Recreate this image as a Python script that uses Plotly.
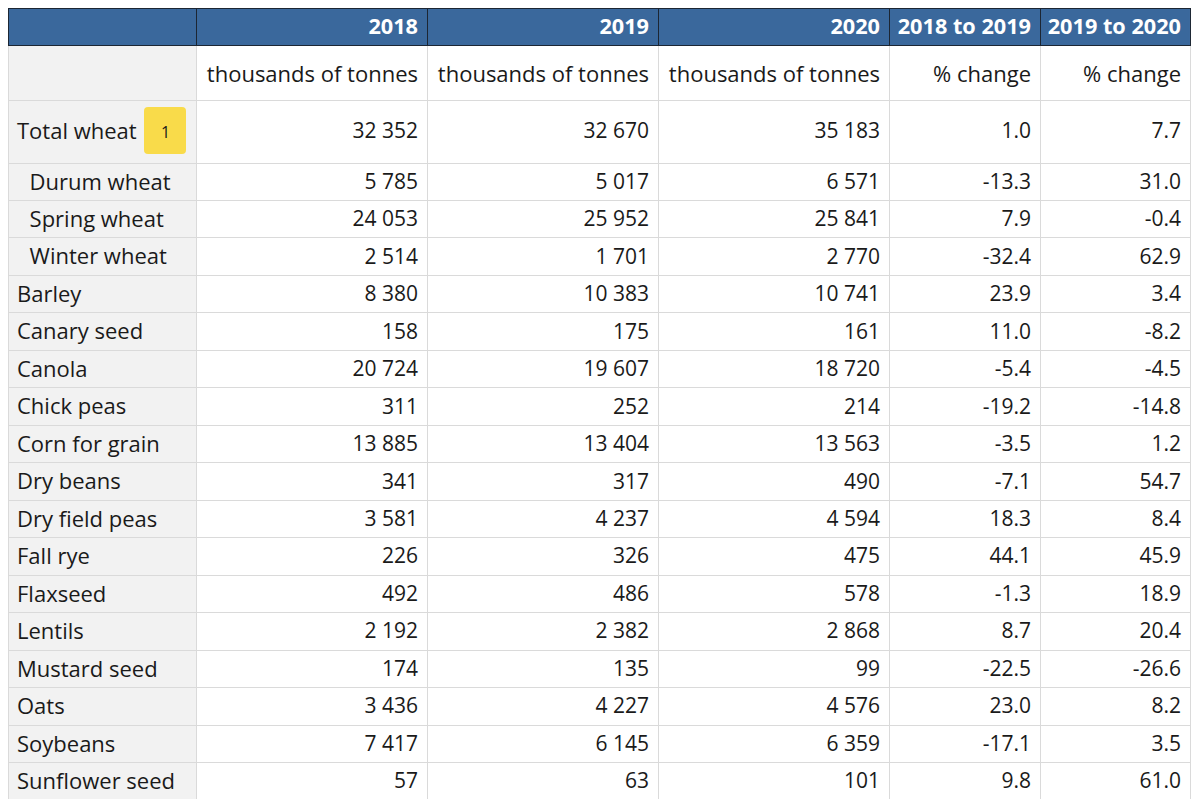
import plotly.graph_objects as go

# ---- data ----
years = ["2018", "2019", "2020"]
change_labels = ["2018 to 2019", "2019 to 2020"]
unit_labels = ["thousands of tonnes", "thousands of tonnes", "thousands of tonnes", "% change", "% change"]

crops = ["Total wheat", "Durum wheat", "Spring wheat", "Winter wheat", "Barley", "Canary seed",
         "Canola", "Chick peas", "Corn for grain", "Dry beans", "Dry field peas", "Fall rye",
         "Flaxseed", "Lentils", "Mustard seed", "Oats", "Soybeans", "Sunflower seed"]
indented = ["Durum wheat", "Spring wheat", "Winter wheat"]
v2018 = [32352, 5785, 24053, 2514, 8380, 158, 20724, 311, 13885, 341, 3581, 226, 492, 2192, 174, 3436, 7417, 57]
v2019 = [32670, 5017, 25952, 1701, 10383, 175, 19607, 252, 13404, 317, 4237, 326, 486, 2382, 135, 4227, 6145, 63]
v2020 = [35183, 6571, 25841, 2770, 10741, 161, 18720, 214, 13563, 490, 4594, 475, 578, 2868, 99, 4576, 6359, 101]
chg_18_19 = [1.0, -13.3, 7.9, -32.4, 23.9, 11.0, -5.4, -19.2, -3.5, -7.1, 18.3, 44.1, -1.3, 8.7, -22.5, 23.0, -17.1, 9.8]
chg_19_20 = [7.7, 31.0, -0.4, 62.9, 3.4, -8.2, -4.5, -14.8, 1.2, 54.7, 8.4, 45.9, 18.9, 20.4, -26.6, 8.2, 3.5, 61.0]
footnote = "1"

# ---- styling ----
W, H = 1200, 807
OFF = 8                              # page body margin of the viewer
X0, X1 = 8 - OFF, 1190 - OFF         # table left/right (px in figure)
col_widths = [188, 231, 231, 231, 151, 150]
PADX = 1                             # extra horizontal text inset
text_widths = [col_widths[0] - 2 * PADX] + col_widths[1:]
Y_TOP = 8 - OFF
h_head, h_unit, h_total, h_row = 37, 55, 63, 37.47
EMPTY_HEAD = 16                      # plotly's band for tables without header
shift_head, shift_unit, shift_total, shift_row = 2, 12, 14, 2
FONT = "Open Sans"
BLUE = "#3a689c"
HEAD_LINE = "#1c2633"
GREY_BG = "#f2f2f2"
LINE = "#dadada"
TXT = "#1a1a1a"
FS_LABEL, FS_NUM, FS_HEAD = 22, 21, 21.7
NONE = "rgba(0,0,0,0)"


def nb(s):
    return s.replace(" ", "\u00a0")


def fmt_int(v):
    return nb(f"{v:,}".replace(",", " "))


def fmt_pct(v):
    return f"{v:.1f}"


def label(name):
    return ("\u2007" + nb(name)) if name in indented else nb(name)


def py(p):
    return (H - p) / H


def px(p):
    return p / W


aligns = ["left", "right", "right", "right", "right", "right"]
first_fill = [GREY_BG, "white", "white", "white", "white", "white"]
xdom_bg = [px(X0), px(X1)]
xdom_tx = [px(X0 + PADX), px(X1 - PADX)]

y_unit = Y_TOP + h_head
y_total = y_unit + h_unit
y_rest = y_total + h_total
y_end = y_rest + h_row * (len(crops) - 1)

blank_head = dict(fill_color=NONE, line=dict(color=NONE, width=0))
font = dict(family=FONT, size=FS_NUM, color=TXT)
row_font = dict(family=FONT, size=[FS_LABEL] + [FS_NUM] * 5, color=TXT)

rows_total = [0]
rows_rest = list(range(1, len(crops)))


def cols_for(idx):
    return [[label(crops[i]) for i in idx],
            [fmt_int(v2018[i]) for i in idx],
            [fmt_int(v2019[i]) for i in idx],
            [fmt_int(v2020[i]) for i in idx],
            [fmt_pct(chg_18_19[i]) for i in idx],
            [fmt_pct(chg_19_20[i]) for i in idx]]


def blanks(n):
    return [[""] * n for _ in col_widths]


fig = go.Figure()

# --- backgrounds ---
fig.add_trace(go.Table(
    domain=dict(x=xdom_bg, y=[py(y_total), py(Y_TOP)]),
    columnwidth=col_widths,
    header=dict(values=[""] * len(col_widths), fill_color=BLUE,
                line=dict(color=HEAD_LINE, width=1), height=h_head,
                font=dict(family=FONT, size=FS_HEAD, color="white")),
    cells=dict(values=blanks(1), fill_color=first_fill, line=dict(color=LINE, width=1),
               font=font, height=h_unit),
))
fig.add_trace(go.Table(
    domain=dict(x=xdom_bg, y=[py(y_rest), py(y_total - EMPTY_HEAD)]),
    columnwidth=col_widths, header=blank_head,
    cells=dict(values=blanks(1), fill_color=first_fill, line=dict(color=LINE, width=1),
               font=font, height=h_total),
))
fig.add_trace(go.Table(
    domain=dict(x=xdom_bg, y=[py(y_end), py(y_rest - EMPTY_HEAD)]),
    columnwidth=col_widths, header=blank_head,
    cells=dict(values=blanks(len(rows_rest)), fill_color=first_fill,
               line=dict(color=LINE, width=1), font=font, height=h_row),
))

# --- texts ---
fig.add_trace(go.Table(
    domain=dict(x=xdom_tx, y=[py(y_unit + shift_head), py(Y_TOP + shift_head)]),
    columnwidth=text_widths,
    header=dict(values=[""] + years + [nb(c) for c in change_labels], fill_color=NONE,
                line=dict(color=NONE, width=0), height=h_head, align="right",
                font=dict(family=FONT, size=FS_HEAD, color="white", weight="bold")),
))
fig.add_trace(go.Table(
    domain=dict(x=xdom_tx, y=[py(y_total + shift_unit), py(y_unit - EMPTY_HEAD + shift_unit)]),
    columnwidth=text_widths, header=blank_head,
    cells=dict(values=[[""]] + [[nb(u)] for u in unit_labels], fill_color=NONE,
               line=dict(color=NONE, width=0), font=dict(family=FONT, size=FS_LABEL, color=TXT),
               align="right", height=h_unit),
))
fig.add_trace(go.Table(
    domain=dict(x=xdom_tx, y=[py(y_rest + shift_total), py(y_total - EMPTY_HEAD + shift_total)]),
    columnwidth=text_widths, header=blank_head,
    cells=dict(values=cols_for(rows_total), fill_color=NONE,
               line=dict(color=NONE, width=0), font=row_font, align=aligns, height=h_total),
))
fig.add_trace(go.Table(
    domain=dict(x=xdom_tx, y=[py(y_end + shift_row), py(y_rest - EMPTY_HEAD + shift_row)]),
    columnwidth=text_widths, header=blank_head,
    cells=dict(values=cols_for(rows_rest), fill_color=NONE,
               line=dict(color=NONE, width=0), font=row_font, align=aligns, height=h_row),
))

# footnote badge
bx0, bx1 = px(144 - OFF), px(186 - OFF)
by0, by1 = py(154 - OFF), py(107 - OFF)
rx, ry = px(4), 4 / H
path = (f"M {bx0+rx},{by0} L {bx1-rx},{by0} Q {bx1},{by0} {bx1},{by0+ry} "
        f"L {bx1},{by1-ry} Q {bx1},{by1} {bx1-rx},{by1} L {bx0+rx},{by1} "
        f"Q {bx0},{by1} {bx0},{by1-ry} L {bx0},{by0+ry} Q {bx0},{by0} {bx0+rx},{by0} Z")
fig.add_shape(type="path", path=path, xref="paper", yref="paper",
              fillcolor="#f9db4a", line=dict(width=0))
fig.add_annotation(x=(bx0 + bx1) / 2, y=(by0 + by1) / 2 - 1 / H, xref="paper", yref="paper",
                   xanchor="center", yanchor="middle",
                   text=footnote, showarrow=False, font=dict(family=FONT, size=16, color=TXT))

fig.update_layout(width=W, height=H, margin=dict(l=0, r=0, t=0, b=0),
                  paper_bgcolor="white", plot_bgcolor="white")

fig.write_html("out.html")
